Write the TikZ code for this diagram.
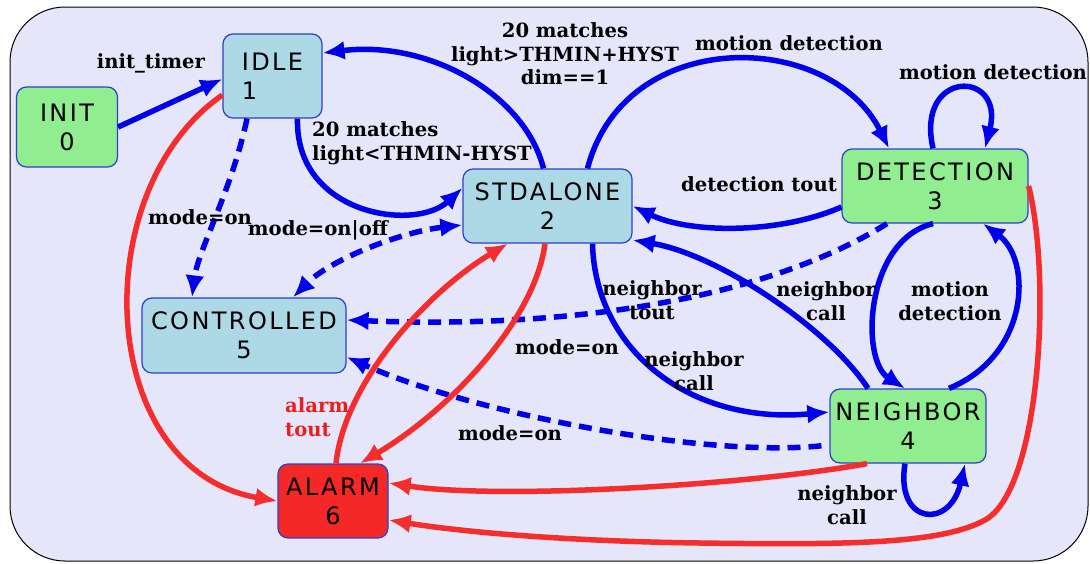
\documentclass[tikz,border=0pt]{standalone}
\usepackage{fontspec}
\usetikzlibrary{arrows.meta}
\newfontfamily\lblfont{DejaVu Serif}
\newfontfamily\ndfont[LetterSpace=10]{DejaVu Sans}
\definecolor{bgl}{RGB}{230,230,250}
\definecolor{eblue}{RGB}{0,0,235}
\definecolor{ered}{RGB}{245,45,45}
\definecolor{nborder}{RGB}{45,65,200}
\definecolor{lblue}{RGB}{173,216,230}
\definecolor{lgreen}{RGB}{144,238,144}
\definecolor{alred}{RGB}{245,40,40}
\definecolor{tred}{RGB}{235,30,30}
\tikzset{
  st/.style={draw=nborder, line width=1.2pt, rounded corners=10pt, inner sep=0pt,
    font=\ndfont\fontsize{24}{29}\selectfont, align=center},
  be/.style={draw=eblue, line width=5.5pt, -{Latex[length=22pt,width=19pt]}},
  de/.style={be, dash pattern=on 13pt off 8pt},
  re/.style={draw=ered, line width=5.5pt, -{Latex[length=22pt,width=19pt]}},
  lbl/.style={font=\lblfont\bfseries\fontsize{19.6}{23.5}\selectfont, align=center, inner sep=0pt},
}
\begin{document}
\begin{tikzpicture}[x=1pt,y=-1pt]
\useasboundingbox (0,0) rectangle (1090,563);
\fill[white] (0,0) rectangle (1090,563);
\draw[fill=bgl, line width=1pt, rounded corners=55pt] (10,7) rectangle (1088,561);

% states
\node[st, fill=lgreen, minimum width=101pt, minimum height=80pt] (init) at (67,127) {INIT\\0};
\node[st, fill=lblue, minimum width=99pt, minimum height=84pt, align=left] (idle) at (272.5,76) {IDLE\\1};
\node[st, fill=lblue, minimum width=169pt, minimum height=74pt] (std) at (547.5,206) {STDALONE\\2};
\node[st, fill=lgreen, minimum width=186pt, minimum height=74pt] (det) at (935,186) {DETECTION\\3};
\node[st, fill=lgreen, minimum width=156pt, minimum height=74pt] (nei) at (908,426) {NEIGHBOR\\4};
\node[st, fill=lblue, minimum width=204pt, minimum height=75pt] (ctl) at (244,335.5) {CONTROLLED\\5};
\node[st, fill=alred, minimum width=110pt, minimum height=74pt] (alarm) at (333,501) {ALARM\\6};

% blue transitions
\draw[be] (init.east) -- ([yshift=-3pt]idle.west);
\draw[be] ([xshift=-4pt]std.north) .. controls (525,95) and (430,40) .. ([yshift=23pt]idle.east);
\draw[be] ([xshift=25pt]idle.south) .. controls (295,215) and (415,232) .. ([yshift=18pt]std.west);
\draw[be] ([xshift=40pt]std.north) .. controls (625,25) and (830,30) .. ([xshift=-46pt]det.north);
\draw[be] ([xshift=-2pt]det.north) .. controls (915,69) and (1005,69) .. ([xshift=50pt]det.north);
\draw[be] ([yshift=-21pt]det.west) .. controls (780,234) and (690,234) .. (std.east);
\draw[be] ([xshift=45pt]std.south) .. controls (595,350) and (690,425) .. ([yshift=14pt]nei.west);
\draw[be] ([xshift=-40pt]nei.north) .. controls (830,330) and (720,255) .. ([yshift=-34pt]std.east);
\draw[be] ([xshift=-2pt]det.south) .. controls (865,240) and (860,360) .. ([xshift=-3pt]nei.north);
\draw[be] ([xshift=41pt]nei.north) .. controls (1030,355) and (1032,260) .. ([xshift=48pt]det.south);
\draw[be] ([xshift=-3pt]nei.south) .. controls (895,525) and (950,530) .. ([xshift=57pt]nei.south);

% dashed transitions
\draw[de] ([xshift=-25.5pt]idle.south) .. controls (232,190) and (198,250) .. ([xshift=-52pt]ctl.north);
\draw[de, {Latex[length=22pt,width=19pt]}-{Latex[length=22pt,width=19pt]}] ([yshift=-19pt]std.west) .. controls (400,232) and (330,260) .. ([xshift=49pt]ctl.north);
\draw[de] ([xshift=-48pt]det.south) .. controls (780,290) and (600,330) .. ([yshift=15.5pt]ctl.east);
\draw[de, shorten <=8pt] ([yshift=-19pt]nei.west) .. controls (700,458) and (470,412) .. ([yshift=-21.5pt]ctl.east);

% red transitions
\draw[re] ([yshift=-19pt]idle.west) .. controls (85,190) and (95,470) .. (alarm.west);
\draw[re] ([xshift=3pt]alarm.north) .. controls (345,380) and (430,290) .. ([xshift=-39.5pt]std.south);
\draw[re] ([xshift=-2.5pt]std.south) .. controls (535,320) and (450,410) .. ([xshift=27pt]alarm.north);
\draw[re] ([xshift=-41pt]nei.south) .. controls (750,485) and (500,500) .. ([yshift=18pt]alarm.east);
\draw[re] (det.east) .. controls (1052,280) and (1040,490) .. (985,520)
   .. controls (941,544) and (850,545) .. (700,543)
   .. controls (550,541) and (450,530) .. ([yshift=-19pt]alarm.east);

% labels
\node[lbl] (l1) at (151,63) {init\_timer};
\node[lbl] (l2) at (565,54) {20 matches\\light>THMIN+HYST\\dim==1};
\node[lbl, anchor=west, align=left] (l3) at (312,143) {20 matches\\light<THMIN-HYST};
\node[lbl] (l4) at (789,43) {motion detection};
\node[lbl] (l5) at (993,72) {motion detection};
\node[lbl] (l6) at (759,184) {detection tout};
\node[lbl] (l7) at (200,217) {mode=on};
\node[lbl] (l8) at (318,230) {mode=on|off};
\node[lbl] (l9) at (652,300) {neighbor\\tout};
\node[lbl] (l10) at (826,301) {neighbor\\call};
\node[lbl] (l11) at (950,301) {motion\\detection};
\node[lbl] (l12) at (567,347) {mode=on};
\node[lbl] (l13) at (694,371) {neighbor\\call};
\node[lbl, anchor=west, align=left, text=tred] (l14) at (285,417) {alarm\\tout};
\node[lbl] (l15) at (510,433) {mode=on};
\node[lbl] (l16) at (847,505) {neighbor\\call};
\end{tikzpicture}
\end{document}
